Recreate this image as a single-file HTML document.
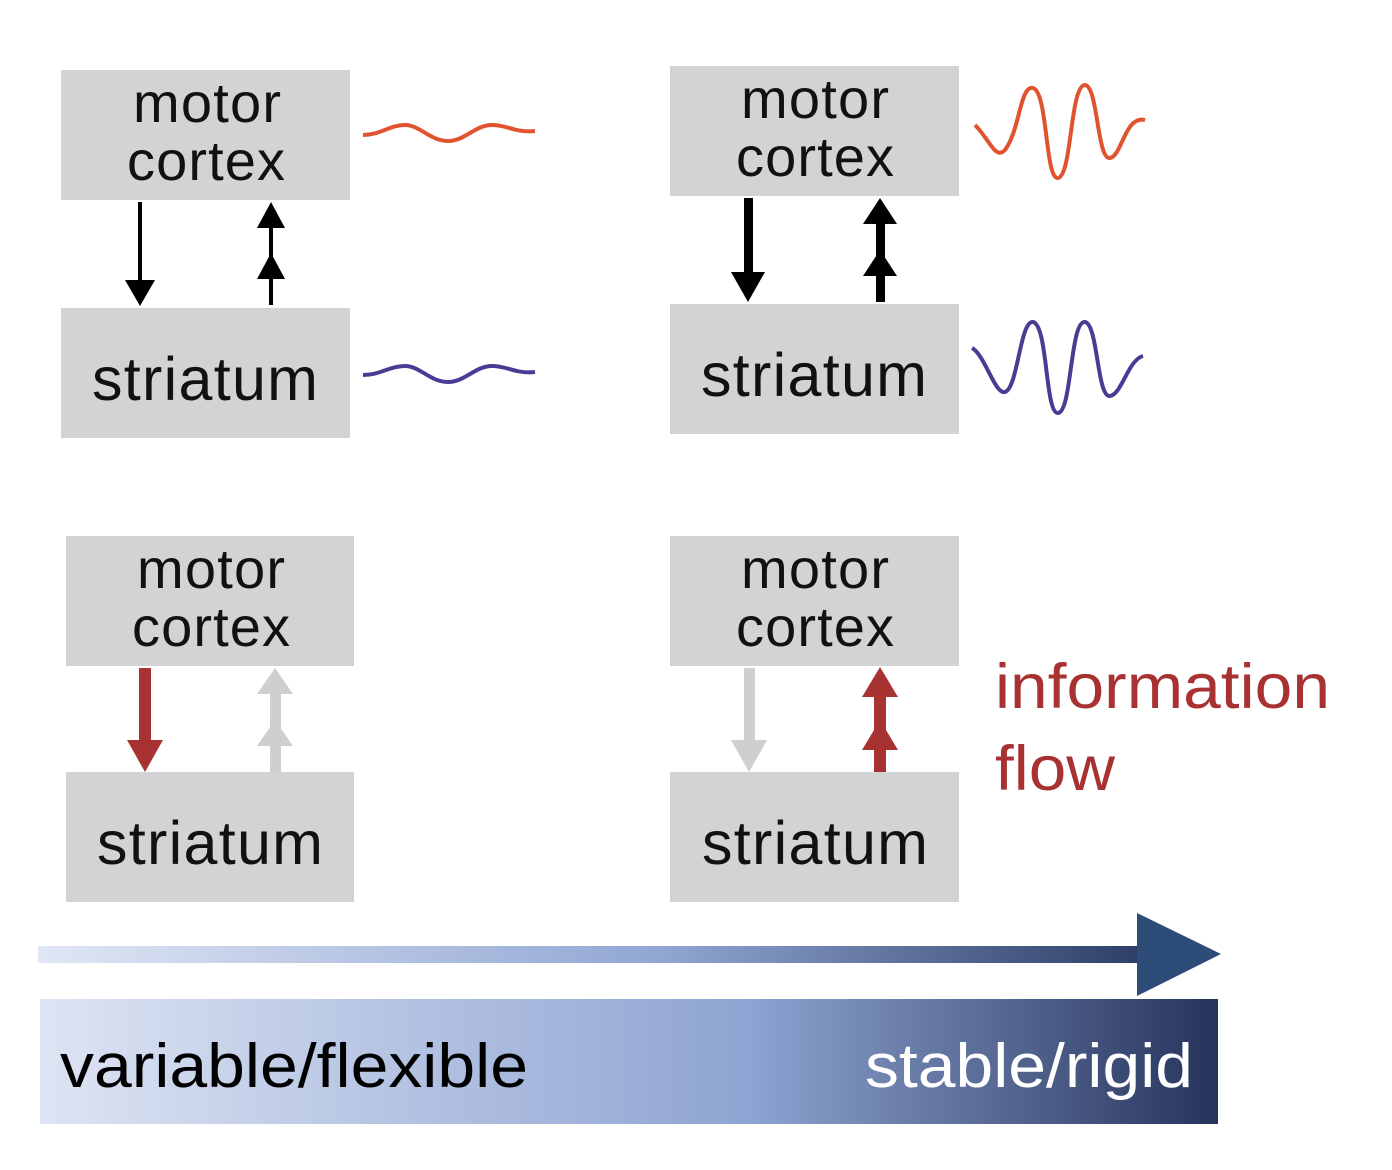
<!DOCTYPE html>
<html><head><style>body{margin:0;background:#fff}svg{display:block}text{font-family:"Liberation Sans",sans-serif}</style></head>
<body>
<svg width="1392" height="1170" viewBox="0 0 1392 1170" xmlns="http://www.w3.org/2000/svg">
<defs>
<linearGradient id="g1" x1="0" x2="1"><stop offset="0" stop-color="#e0e6f4"/><stop offset="0.55" stop-color="#90a6d3"/><stop offset="1" stop-color="#27375f"/></linearGradient>
<linearGradient id="g2" x1="0" x2="1"><stop offset="0" stop-color="#dde4f3"/><stop offset="0.6" stop-color="#8ea4d2"/><stop offset="1" stop-color="#26345c"/></linearGradient>
</defs>
<g fill="#d3d3d5">
<rect x="61" y="70" width="289" height="130"/><rect x="61" y="308" width="289" height="130"/>
<rect x="670" y="66" width="289" height="130"/><rect x="670" y="304" width="289" height="130"/>
<rect x="66" y="536" width="288" height="130"/><rect x="66" y="772" width="288" height="130"/>
<rect x="670" y="536" width="289" height="130"/><rect x="670" y="772" width="289" height="130"/>
</g>
<g font-size="56" fill="#111" lengthAdjust="spacingAndGlyphs">
<text x="133" y="122" textLength="148">motor</text><text x="127" y="180" textLength="158">cortex</text>
<text x="92" y="400" font-size="61" textLength="226">striatum</text>
<text x="741" y="118" textLength="148">motor</text><text x="736" y="176" textLength="158">cortex</text>
<text x="701" y="396" font-size="61" textLength="226">striatum</text>
<text x="137" y="588" textLength="148">motor</text><text x="132" y="646" textLength="158">cortex</text>
<text x="97" y="864" font-size="61" textLength="226">striatum</text>
<text x="741" y="588" textLength="148">motor</text><text x="736" y="646" textLength="158">cortex</text>
<text x="702" y="864" font-size="61" textLength="226">striatum</text>
</g>
<g fill="#000"><rect x="138" y="202" width="4" height="82"/><polygon points="125,280 155,280 140,306"/>
<rect x="269" y="225" width="4" height="80"/><polygon points="257,228 285,228 271,202"/><polygon points="257,279 285,279 271,253"/></g>
<g fill="#000"><rect x="744" y="198" width="9" height="78"/><polygon points="731,272 765,272 748,302"/>
<rect x="876" y="220" width="9" height="82"/><polygon points="863,224 897,224 880,198"/><polygon points="863,276 897,276 880,250"/></g>
<rect x="139" y="668" width="12" height="74" fill="#a83232"/><polygon points="127,740 163,740 145,772" fill="#a83232"/>
<g fill="#cfcfd1"><rect x="270" y="690" width="11" height="82"/><polygon points="257,694 293,694 275,668"/><polygon points="257,746 293,746 275,720"/></g>
<rect x="744" y="668" width="11" height="74" fill="#cfcfd1"/><polygon points="731,740 767,740 749,772" fill="#cfcfd1"/>
<g fill="#a83232"><rect x="874" y="690" width="12" height="82"/><polygon points="862,697 898,697 880,667"/><polygon points="862,750 898,750 880,720"/></g>
<path d="M363,135 C380,135 390,125 405,125 C420,125 430,141 448,141 C465,141 475,125 492,125 C508,125 515,133 535,131" fill="none" stroke="#e0532f" stroke-width="4"/>
<path d="M363,375 C380,375 390,366 405,366 C420,366 430,382 448,382 C465,382 475,366 492,366 C508,366 515,374 535,372" fill="none" stroke="#4a3c94" stroke-width="4"/>
<path d="M975,125 C990,140 995,160 1005,150 C1020,130 1020,85 1033,88 C1048,92 1045,180 1058,178 C1072,176 1070,85 1085,85 C1098,86 1097,160 1110,158 C1122,156 1125,115 1145,120" fill="none" stroke="#e0532f" stroke-width="4"/>
<path d="M972,348 C985,355 995,395 1005,392 C1018,388 1020,320 1033,322 C1048,325 1045,414 1058,413 C1072,412 1070,320 1085,322 C1098,324 1097,398 1110,396 C1122,394 1128,360 1143,356" fill="none" stroke="#4a3c94" stroke-width="4"/>
<text x="995" y="708" font-size="63" fill="#a83232" textLength="335" lengthAdjust="spacingAndGlyphs">information</text>
<text x="995" y="790" font-size="63" fill="#a83232" textLength="120" lengthAdjust="spacingAndGlyphs">flow</text>
<rect x="38" y="946" width="1137" height="17" fill="url(#g1)"/>
<polygon points="1137,913 1221,954 1137,996" fill="#2e4c78"/>
<rect x="40" y="999" width="1178" height="125" fill="url(#g2)"/>
<text x="60" y="1087" font-size="62" fill="#000" textLength="468" lengthAdjust="spacingAndGlyphs">variable/flexible</text>
<text x="865" y="1087" font-size="62" fill="#fff" textLength="328" lengthAdjust="spacingAndGlyphs">stable/rigid</text>
</svg>
</body></html>
